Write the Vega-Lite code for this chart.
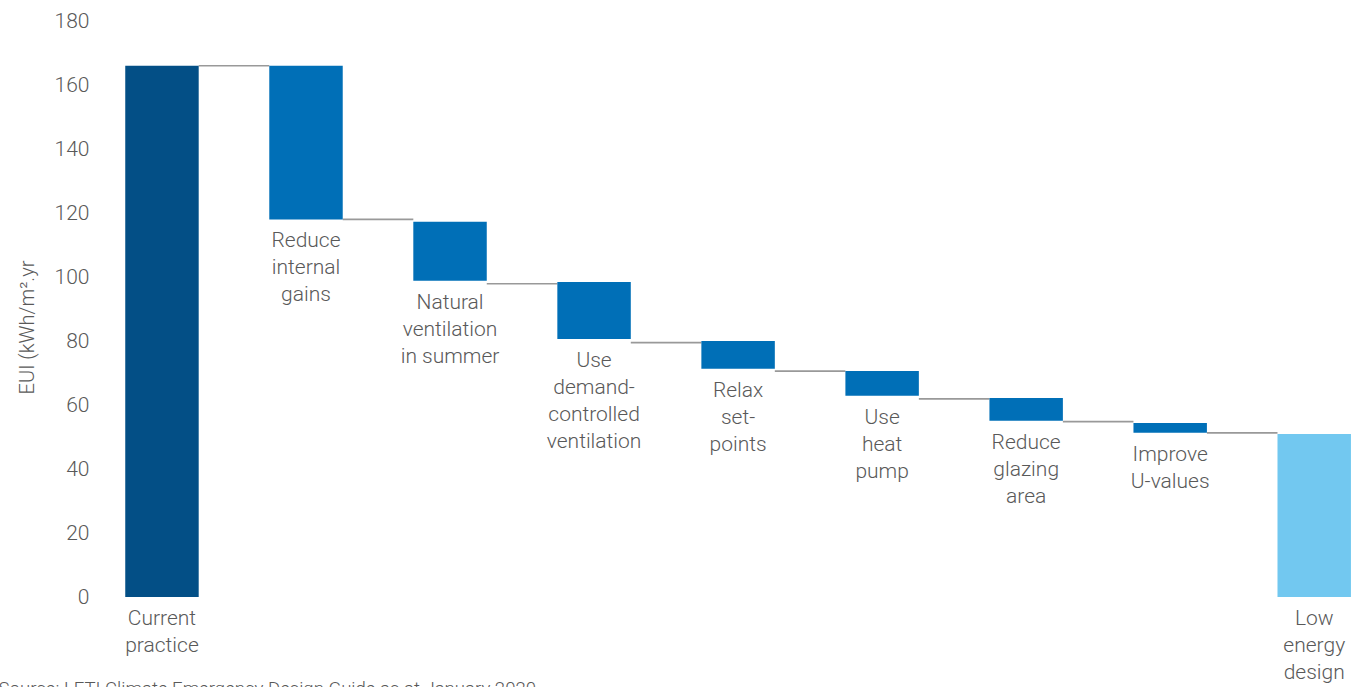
{
  "$schema": "https://vega.github.io/schema/vega-lite/v6.json",
  "width": 1245,
  "height": 576,
  "autosize": {"type": "none"},
  "padding": {"left": 110, "top": 21, "right": 0, "bottom": 90},
  "background": "white",
  "config": {
    "view": {"stroke": null},
    "font": "Roboto"
  },
  "datasets": {
    "steps": [
      {"step": "Current practice", "label": "Current\npractice", "high": 166, "low": 0, "kind": "total"},
      {"step": "Reduce internal gains", "label": "Reduce\ninternal\ngains", "high": 166, "low": 118, "kind": "step"},
      {"step": "Natural ventilation in summer", "label": "Natural\nventilation\nin summer", "high": 117.3, "low": 98.8, "kind": "step"},
      {"step": "Use demand-controlled ventilation", "label": "Use\ndemand-\ncontrolled\nventilation", "high": 98.4, "low": 80.6, "kind": "step"},
      {"step": "Relax set-points", "label": "Relax\nset-\npoints", "high": 80, "low": 71.3, "kind": "step"},
      {"step": "Use heat pump", "label": "Use\nheat\npump", "high": 70.6, "low": 62.9, "kind": "step"},
      {"step": "Reduce glazing area", "label": "Reduce\nglazing\narea", "high": 62.2, "low": 55.1, "kind": "step"},
      {"step": "Improve U-values", "label": "Improve\nU-values", "high": 54.4, "low": 51.3, "kind": "step"},
      {"step": "Low energy design", "label": "Low\nenergy\ndesign", "high": 50.9, "low": 0, "kind": "result"}
    ],
    "links": [
      {"from": "Current practice", "to": "Reduce internal gains", "level": 166},
      {"from": "Reduce internal gains", "to": "Natural ventilation in summer", "level": 118},
      {"from": "Natural ventilation in summer", "to": "Use demand-controlled ventilation", "level": 97.9},
      {"from": "Use demand-controlled ventilation", "to": "Relax set-points", "level": 79.5},
      {"from": "Relax set-points", "to": "Use heat pump", "level": 70.6},
      {"from": "Use heat pump", "to": "Reduce glazing area", "level": 61.9},
      {"from": "Reduce glazing area", "to": "Improve U-values", "level": 54.8},
      {"from": "Improve U-values", "to": "Low energy design", "level": 51.3}
    ]
  },
  "layer": [
    {
      "data": {"name": "links"},
      "mark": {"type": "rule", "color": "#999999", "strokeWidth": 1.6},
      "encoding": {
        "x": {
          "field": "from", "type": "nominal", "bandPosition": 1,
          "title": "Source: LETI Climate Emergency Design Guide as at January 2020",
          "scale": {
            "domain": ["Current practice", "Reduce internal gains", "Natural ventilation in summer", "Use demand-controlled ventilation", "Relax set-points", "Use heat pump", "Reduce glazing area", "Improve U-values", "Low energy design"],
            "paddingInner": 0.49, "paddingOuter": 0.067, "align": 0.79
          },
          "axis": {
            "labels": false, "ticks": false, "domain": false, "grid": false,
            "titleX": -112, "titleY": 97, "titleAlign": "left", "titleAnchor": "start",
            "titleBaseline": "alphabetic", "titleFontSize": 18.6, "titleFontWeight": 300,
            "titleColor": "#595959", "titleFont": "Roboto"
          }
        },
        "x2": {"field": "to", "bandPosition": 0},
        "y": {
          "field": "level", "type": "quantitative",
          "title": "EUI (kWh/m².yr",
          "scale": {"domain": [0, 180], "nice": false, "zero": true},
          "axis": {
            "domain": false, "ticks": false, "grid": false, "tickSize": 0,
            "values": [0, 20, 40, 60, 80, 100, 120, 140, 160, 180],
            "labelFontSize": 21, "labelFontWeight": 300, "labelColor": "#595959", "labelFont": "Roboto",
            "labelPadding": 21,
            "titleX": -77, "titleY": 306, "titleAngle": -90, "titleAlign": "center",
            "titleBaseline": "alphabetic", "titleFontSize": 20, "titleFontWeight": 300,
            "titleColor": "#595959", "titleFont": "Roboto"
          }
        }
      }
    },
    {
      "data": {"name": "steps"},
      "mark": {"type": "bar"},
      "encoding": {
        "x": {
          "field": "step", "type": "nominal",
          "title": "Source: LETI Climate Emergency Design Guide as at January 2020"
        },
        "y": {"field": "high", "type": "quantitative", "title": "EUI (kWh/m².yr"},
        "y2": {"field": "low"},
        "color": {
          "field": "kind", "type": "nominal", "legend": null,
          "scale": {"domain": ["total", "step", "result"], "range": ["#034f86", "#006fb7", "#72c8f0"]}
        }
      }
    },
    {
      "data": {"name": "steps"},
      "mark": {
        "type": "text", "baseline": "top", "align": "center", "dy": 11,
        "fontSize": 21, "fontWeight": 300, "color": "#595959", "font": "Roboto",
        "lineHeight": 27, "lineBreak": "\n"
      },
      "encoding": {
        "x": {
          "field": "step", "type": "nominal",
          "title": "Source: LETI Climate Emergency Design Guide as at January 2020"
        },
        "y": {"field": "low", "type": "quantitative", "title": "EUI (kWh/m².yr"},
        "text": {"field": "label", "type": "nominal"}
      }
    }
  ]
}
